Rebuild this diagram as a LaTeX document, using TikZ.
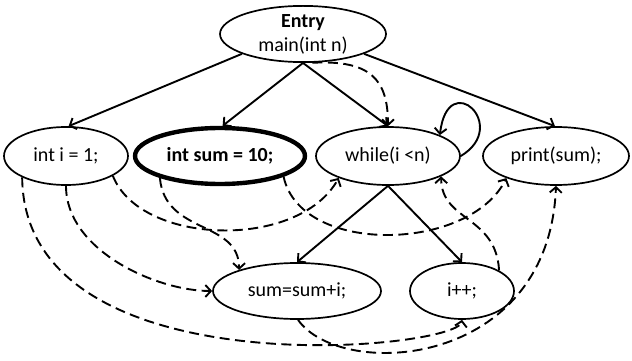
\documentclass[tikz,border=0pt]{standalone}
\usepackage{fontspec}
\setmainfont{Carlito}
\usepackage{tikz}
\usetikzlibrary{arrows.meta,shapes.geometric}
\tikzset{
  stmt/.style={
    draw,
    ellipse,
    line width=1.7pt,
    inner sep=0pt,
    align=center,
    font=\fontsize{20}{23}\selectfont
  },
  ctrl/.style={-{Straight Barb[length=5.5pt,width=12pt]}, line width=1.9pt},
  dep/.style={ctrl, dash pattern=on 10pt off 5.5pt}
}

\begin{document}
\begin{tikzpicture}[x=1pt, y=1pt]
  \useasboundingbox (0,0) rectangle (632,-361);

  \node[stmt, minimum width=166pt, minimum height=56pt] (entry) at (303,-34) {\textbf{Entry}\\[1pt]main(int n)};
  \node[stmt, minimum width=124pt, minimum height=58pt] (inti) at (66,-156) {int i = 1;};
  \node[stmt, line width=4.4pt, minimum width=170pt, minimum height=56pt] (intsum) at (220,-156) {\textbf{int sum = 10;}};
  \node[stmt, minimum width=144pt, minimum height=58pt] (cond) at (388,-156) {while(i <n)};
  \node[stmt, minimum width=146pt, minimum height=58pt] (print) at (556,-156) {print(sum);};
  \node[stmt, minimum width=168pt, minimum height=56pt] (sumi) at (297,-291) {sum=sum+i;};
  \node[stmt, minimum width=104pt, minimum height=56pt] (ipp) at (462,-291) {i++;};

  % control edges
  \draw[ctrl] (entry.198) -- (inti.85);
  \draw[ctrl] (entry.south) -- (intsum.85);
  \draw[ctrl] (entry.south) -- (cond.north);
  \draw[ctrl] (entry.342) -- (print.92);
  \draw[ctrl] (cond.south) -- (sumi.north);
  \draw[ctrl] (cond.south) -- (ipp.north);
  \draw[ctrl] (cond.east) .. controls +(50,30) and +(8,68) .. (cond.22);

  % data edges
  \draw[dep] (entry.288) .. controls +(58,3) and +(0,47) .. (cond.90);
  \draw[dep] (inti.337) .. controls +(28,-70) and +(-40,-72) .. (cond.204);
  \draw[dep] (inti.270) .. controls +(0,-65) and +(-55,0) .. (sumi.180);
  \draw[dep] (inti.206) .. controls +(2,-215) and +(-5,-30) .. (ipp.270);
  \draw[dep] (intsum.200) .. controls +(5,-57) and +(0,50) .. (sumi.160);
  \draw[dep] (intsum.342) .. controls +(17,-79) and +(-37,-74) .. (print.204);
  \draw[dep] (ipp.29) .. controls +(-3,55) and +(0,-45) .. (cond.339);
  \draw[dep] (sumi.272) .. controls +(43,-61) and +(-7,-183) .. (print.270);
\end{tikzpicture}
\end{document}
